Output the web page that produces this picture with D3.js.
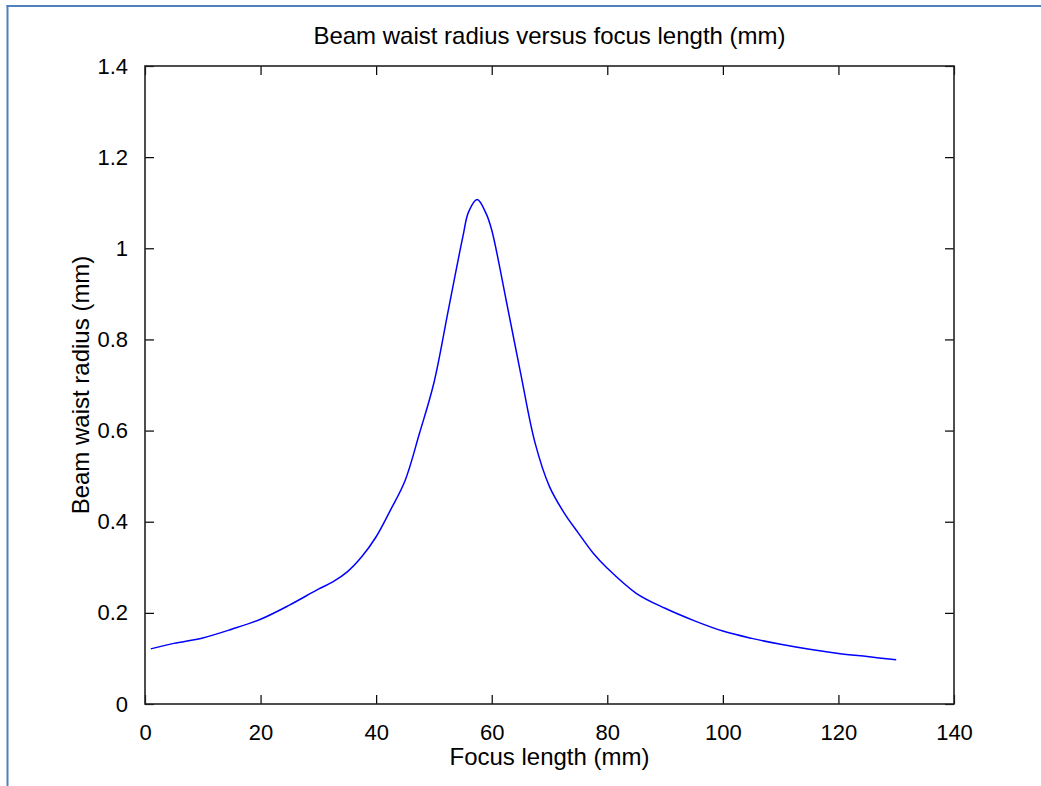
<!DOCTYPE html>
<html>
<head>
<meta charset="utf-8">
<script src="https://d3js.org/d3.v7.min.js"></script>
<style>
body {margin: 0; background: white;}
text {font-family: 'Liberation Sans', Arial, sans-serif; fill: black;}
</style>
</head>
<body>
<div id="chart"></div>
<script>
// focus length (mm) and beam waist radius (mm)
var focus = [1, 5, 10, 15, 20, 25, 30, 32.5, 35, 37.5, 40, 42.5, 45, 47.5, 50, 52.5, 55, 56, 57.5, 59, 60, 62.5, 65, 67.5, 70, 72.5, 75, 77.5, 80, 85, 90, 95, 100, 105, 110, 115, 120, 125, 130];
var radius = [0.121, 0.133, 0.145, 0.164, 0.186, 0.217, 0.252, 0.268, 0.29, 0.323, 0.367, 0.426, 0.49, 0.594, 0.705, 0.865, 1.025, 1.08, 1.107, 1.077, 1.04, 0.886, 0.726, 0.573, 0.477, 0.42, 0.375, 0.332, 0.298, 0.243, 0.21, 0.183, 0.16, 0.144, 0.131, 0.12, 0.111, 0.104, 0.097];
var xticks = [0, 20, 40, 60, 80, 100, 120, 140];
var yticks = [0, 0.2, 0.4, 0.6, 0.8, 1, 1.2, 1.4];

var W = 1041, H = 786;
// plot box (note: "top" is taken by window.top)
var pLeft = 145, pRight = 954, pTop = 66, pBottom = 704;

var svg = d3.select("#chart").append("svg").attr("width", W).attr("height", H);
svg.append("rect").attr("width", W).attr("height", H).attr("fill", "white");

// blue frame of the screenshot
svg.append("line").attr("x1", 6.5).attr("x2", W).attr("y1", 6).attr("y2", 6)
  .attr("stroke", "#4f81bd").attr("stroke-width", 2);
svg.append("line").attr("x1", 7.5).attr("x2", 7.5).attr("y1", 5).attr("y2", H)
  .attr("stroke", "#4f81bd").attr("stroke-width", 2);

var x = d3.scaleLinear().domain([0, 140]).range([pLeft, pRight]);
var y = d3.scaleLinear().domain([0, 1.4]).range([pBottom, pTop]);

var fmt = function(d) { return d3.format("~g")(d); };

// ticks inside on all four sides, like matlab
function styleAxis(g) {
  g.select(".domain").remove();
  g.selectAll(".tick line").attr("stroke", "#000").attr("stroke-width", 1.2);
  g.selectAll("text").style("font-size", "22px").attr("fill", "#000")
    .style("font-family", "'Liberation Sans', Arial, sans-serif");
}

svg.append("g").attr("transform", "translate(0," + pBottom + ")")
  .call(d3.axisBottom(x).tickValues(xticks).tickSizeInner(-9).tickSizeOuter(0).tickPadding(20).tickFormat(fmt))
  .call(styleAxis);
svg.append("g").attr("transform", "translate(0," + pTop + ")")
  .call(d3.axisTop(x).tickValues(xticks).tickSizeInner(-9).tickSizeOuter(0).tickFormat(""))
  .call(styleAxis);
svg.append("g").attr("transform", "translate(" + pLeft + ",0)")
  .call(d3.axisLeft(y).tickValues(yticks).tickSizeInner(-9).tickSizeOuter(0).tickPadding(17).tickFormat(fmt))
  .call(styleAxis);
svg.append("g").attr("transform", "translate(" + pRight + ",0)")
  .call(d3.axisRight(y).tickValues(yticks).tickSizeInner(-9).tickSizeOuter(0).tickFormat(""))
  .call(styleAxis);

svg.append("rect").attr("x", pLeft).attr("y", pTop)
  .attr("width", pRight - pLeft).attr("height", pBottom - pTop)
  .attr("fill", "none").attr("stroke", "#222").attr("stroke-width", 1.6);

var line = d3.line().curve(d3.curveCatmullRom.alpha(0.5))
  .x(function(d, i) { return x(focus[i]); }).y(function(d) { return y(d); });
svg.append("path").datum(radius).attr("d", line)
  .attr("fill", "none").attr("stroke", "#0000ff").attr("stroke-width", 1.5);

svg.append("text").attr("x", (pLeft + pRight) / 2).attr("y", 44)
  .attr("text-anchor", "middle").style("font-size", "24px")
  .text("Beam waist radius versus focus length (mm)");
svg.append("text").attr("x", (pLeft + pRight) / 2).attr("y", 765)
  .attr("text-anchor", "middle").style("font-size", "24px")
  .text("Focus length (mm)");
svg.append("text").attr("transform", "translate(89," + (pTop + pBottom) / 2 + ") rotate(-90)")
  .attr("text-anchor", "middle").style("font-size", "24px")
  .text("Beam waist radius (mm)");
</script>
</body>
</html>
